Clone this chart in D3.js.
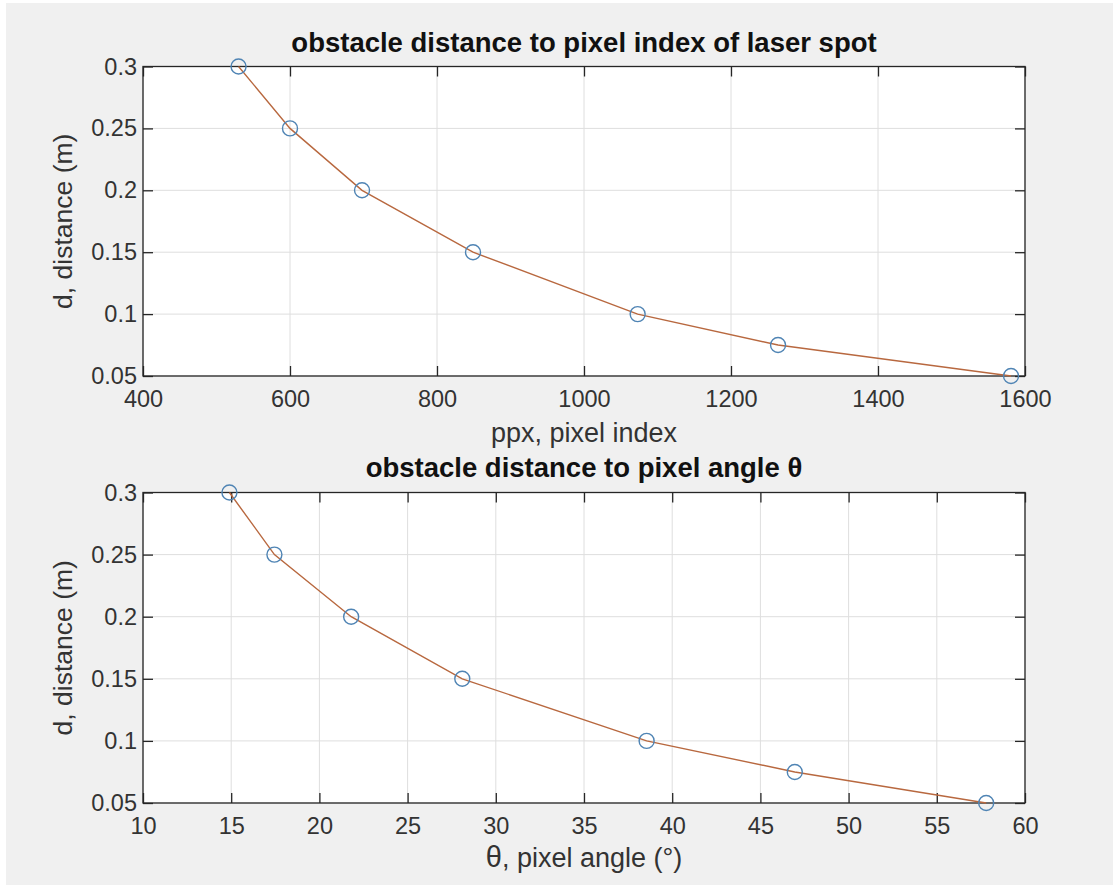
<!DOCTYPE html>
<html>
<head>
<meta charset="utf-8">
<script src="https://cdn.jsdelivr.net/npm/d3@7"></script>
<style>
  body { margin: 0; background: #fff; }
  svg { display: block; font-family: Arial, "Liberation Sans", sans-serif; }
</style>
</head>
<body>
<svg id="chart"></svg>
<script>
// distance values (m), shared by both subplots
const distance = [0.3, 0.25, 0.2, 0.15, 0.1, 0.075, 0.05];
// top subplot: pixel index of laser spot
const pixelIndex = [530, 600, 698, 849, 1073, 1264, 1581];
// bottom subplot: pixel angle (degrees)
const pixelAngle = [14.9, 17.45, 21.8, 28.1, 38.55, 46.95, 57.8];

const yTicks = [0.05, 0.1, 0.15, 0.2, 0.25, 0.3];
const yTickLabels = ['0.05', '0.1', '0.15', '0.2', '0.25', '0.3'];
const xTicksTop = [400, 600, 800, 1000, 1200, 1400, 1600];
const xTicksBottom = [10, 15, 20, 25, 30, 35, 40, 45, 50, 55, 60];

const width = 1113, height = 887;
const svg = d3.select('#chart').attr('width', width).attr('height', height);

// figure background
svg.append('rect')
    .attr('x', 6).attr('y', 3)
    .attr('width', width - 6).attr('height', 882)
    .attr('fill', '#f0f0f0');

const left = 143, right = 1025;

function drawPanel(cfg) {
    const x = d3.scaleLinear().domain(cfg.xDomain).range([left, right]);
    const y = d3.scaleLinear().domain([0.05, 0.3]).range([cfg.bottom, cfg.top]);
    const g = svg.append('g');

    g.append('rect')
        .attr('x', left).attr('y', cfg.top)
        .attr('width', right - left).attr('height', cfg.bottom - cfg.top)
        .attr('fill', '#fff');

    // grid
    g.selectAll('.vgrid').data(cfg.xTicks).enter().append('line')
        .attr('x1', d => x(d)).attr('x2', d => x(d))
        .attr('y1', cfg.top).attr('y2', cfg.bottom)
        .attr('stroke', '#dedede').attr('stroke-width', 1);
    g.selectAll('.hgrid').data(yTicks).enter().append('line')
        .attr('y1', d => y(d)).attr('y2', d => y(d))
        .attr('x1', left).attr('x2', right)
        .attr('stroke', '#dedede').attr('stroke-width', 1);

    const tickLen = 10;
    const styleAxis = a => {
        a.select('.domain').remove();
        a.selectAll('line').attr('stroke', '#262626').attr('stroke-width', 1.3);
        a.selectAll('text').attr('fill', '#333').attr('font-size', '23.5px')
            .attr('font-family', 'Arial, "Liberation Sans", sans-serif');
    };

    g.append('g')
        .attr('transform', `translate(0,${cfg.bottom})`)
        .call(d3.axisBottom(x).tickValues(cfg.xTicks).tickSizeInner(-tickLen).tickSizeOuter(0).tickPadding(14).tickFormat(d3.format('d')))
        .call(styleAxis);
    g.append('g')
        .attr('transform', `translate(0,${cfg.top})`)
        .call(d3.axisTop(x).tickValues(cfg.xTicks).tickSizeInner(-tickLen).tickSizeOuter(0).tickFormat(''))
        .call(styleAxis);
    g.append('g')
        .attr('transform', `translate(${left},0)`)
        .call(d3.axisLeft(y).tickValues(yTicks).tickSizeInner(-tickLen).tickSizeOuter(0).tickPadding(6)
            .tickFormat((d, i) => yTickLabels[i]))
        .call(styleAxis);
    g.append('g')
        .attr('transform', `translate(${right},0)`)
        .call(d3.axisRight(y).tickValues(yTicks).tickSizeInner(-tickLen).tickSizeOuter(0).tickFormat(''))
        .call(styleAxis);

    // box
    g.append('rect')
        .attr('x', left).attr('y', cfg.top)
        .attr('width', right - left).attr('height', cfg.bottom - cfg.top)
        .attr('fill', 'none').attr('stroke', '#262626').attr('stroke-width', 1.3);

    const pts = cfg.xs.map((v, i) => ({ x: v, y: distance[i] }));

    g.append('path')
        .datum(pts)
        .attr('d', d3.line().x(d => x(d.x)).y(d => y(d.y)))
        .attr('fill', 'none')
        .attr('stroke', '#b8683f')
        .attr('stroke-width', 1.4);

    g.selectAll('.marker').data(pts).enter().append('circle')
        .attr('cx', d => x(d.x)).attr('cy', d => y(d.y))
        .attr('r', 7.5)
        .attr('fill', 'none')
        .attr('stroke', '#4f84b4')
        .attr('stroke-width', 1.4);

    // title
    g.append('text')
        .attr('x', (left + right) / 2).attr('y', cfg.titleY)
        .attr('text-anchor', 'middle')
        .attr('font-size', '27.5px').attr('font-weight', 'bold')
        .attr('fill', '#111')
        .text(cfg.title);

    // x label
    const xl = g.append('text')
        .attr('x', (left + right) / 2).attr('y', cfg.xLabelY)
        .attr('text-anchor', 'middle')
        .attr('font-size', '27px')
        .attr('fill', '#333');
    cfg.xLabel(xl);

    // y label
    g.append('text')
        .attr('transform', `translate(72,${(cfg.top + cfg.bottom) / 2}) rotate(-90)`)
        .attr('text-anchor', 'middle')
        .attr('font-size', '26.5px')
        .attr('fill', '#333')
        .text('d, distance (m)');
}

drawPanel({
    top: 66.5, bottom: 376,
    xDomain: [400, 1600], xTicks: xTicksTop, xs: pixelIndex,
    title: 'obstacle distance to pixel index of laser spot', titleY: 51.5,
    xLabelY: 442,
    xLabel: t => t.text('ppx, pixel index')
});

drawPanel({
    top: 492.5, bottom: 803,
    xDomain: [10, 60], xTicks: xTicksBottom, xs: pixelAngle,
    title: 'obstacle distance to pixel angle θ', titleY: 477,
    xLabelY: 867,
    xLabel: t => {
        t.append('tspan').attr('font-size', '29px').text('θ');
        t.append('tspan').text(', pixel angle (°)');
    }
});
</script>
</body>
</html>
